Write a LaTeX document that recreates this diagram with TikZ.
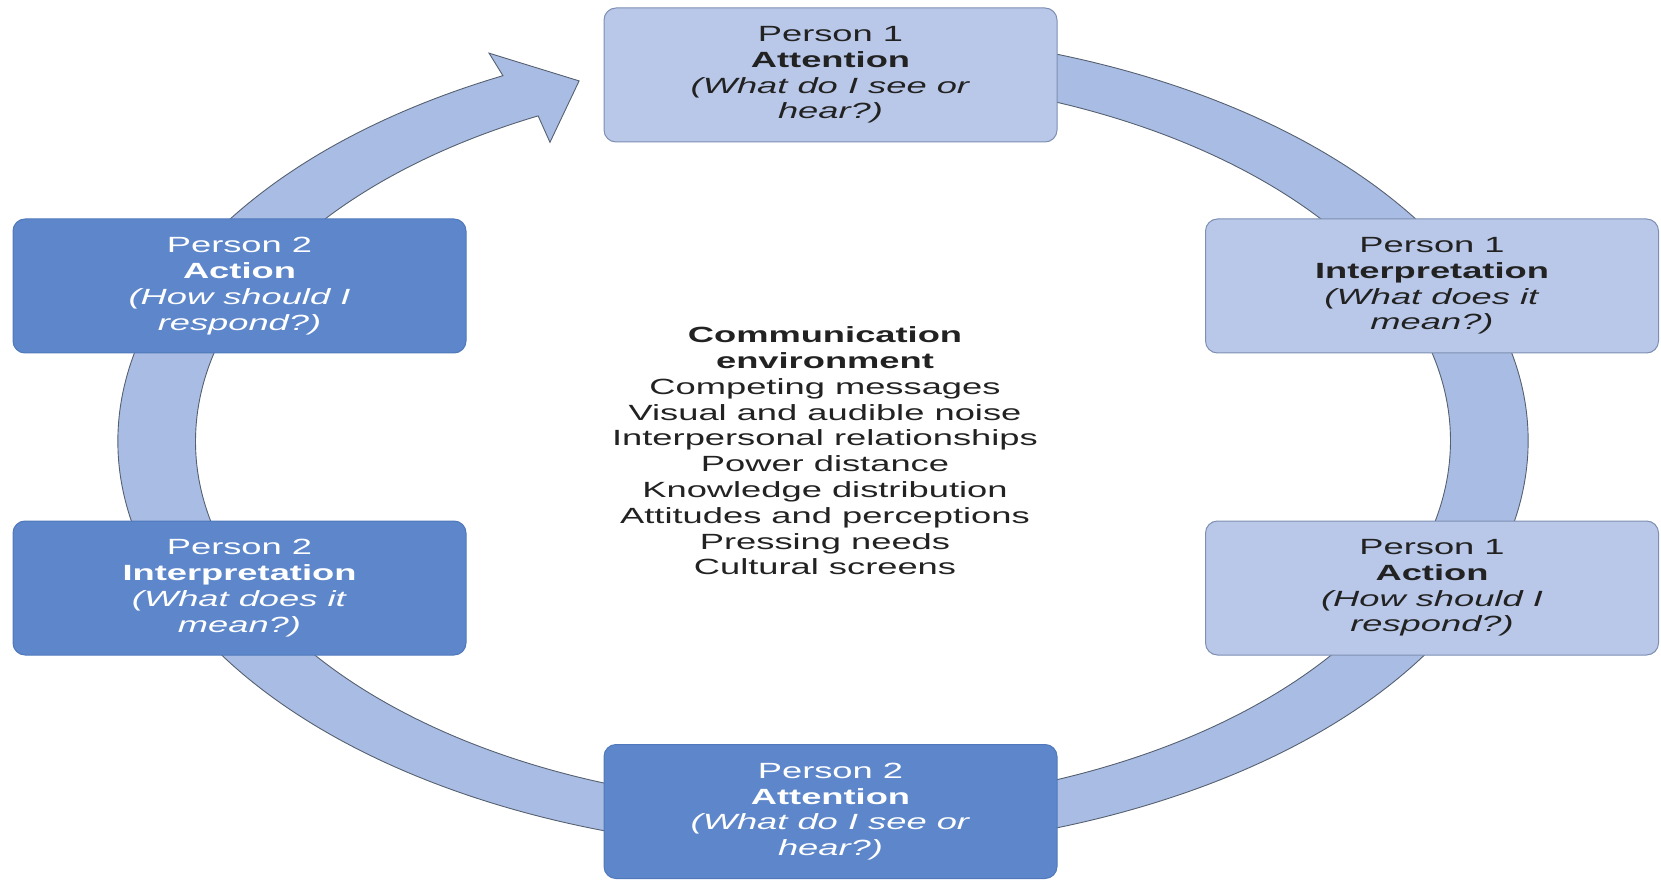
\documentclass[tikz,border=0pt]{standalone}
\usepackage{fontspec}
\setmainfont{Liberation Sans}[FakeStretch=1.65]
\definecolor{ringfill}{HTML}{A9BCE3}
\definecolor{ringline}{HTML}{556070}
\definecolor{lightbox}{HTML}{B9C8E8}
\definecolor{lightedge}{HTML}{7D8FB3}
\definecolor{darkbox}{HTML}{5D87CA}
\definecolor{darkedge}{HTML}{5079BC}
\definecolor{inkgray}{HTML}{222222}
\begin{document}
\begin{tikzpicture}[x=1pt,y=1pt,
  stage/.style={rounded corners=12pt, minimum width=453pt, minimum height=134pt,
    align=center, inner sep=0pt, font=\fontsize{22}{25.8}\selectfont, line width=1pt},
  firstp/.style={stage, fill=lightbox, draw=lightedge, text=inkgray},
  secondp/.style={stage, fill=darkbox, draw=darkedge, text=white},
  ring/.style={fill=ringfill, draw=ringline, line width=0.9pt, line join=miter},
  envtext/.style={align=center, font=\fontsize{22}{25.8}\selectfont, text=inkgray}
]
\useasboundingbox (0,0) rectangle (1661,879);

% cycle arrow: an annulus stretched into an ellipse, with its head at the top left
\begin{scope}[shift={(823,438)}, xscale=705, yscale=410]
  \draw[ring] (117:1) arc[start angle=117, end angle=445, radius=1]
    -- (445:0.89) arc[start angle=445, end angle=117, radius=0.89]
    -- (118:0.825) -- (111.5:0.944) -- (116.6:1.058) -- cycle;
\end{scope}

% the six stages
\node[firstp] (p1att) at (830.5,804)
  {Person 1\\\textbf{Attention}\\\textit{(What do I see or}\\\textit{hear?)}};
\node[firstp] (p1int) at (1432,593)
  {Person 1\\\textbf{Interpretation}\\\textit{(What does it}\\\textit{mean?)}};
\node[firstp] (p1act) at (1432,291)
  {Person 1\\\textbf{Action}\\\textit{(How should I}\\\textit{respond?)}};
\node[secondp] (p2att) at (830.5,67.5)
  {Person 2\\\textbf{Attention}\\\textit{(What do I see or}\\\textit{hear?)}};
\node[secondp] (p2int) at (239.5,291)
  {Person 2\\\textbf{Interpretation}\\\textit{(What does it}\\\textit{mean?)}};
\node[secondp] (p2act) at (239.5,593)
  {Person 2\\\textbf{Action}\\\textit{(How should I}\\\textit{respond?)}};

% environment factors in the middle
\node[envtext] (env) at (825,428)
  {\textbf{Communication}\\\textbf{environment}\\Competing messages\\Visual and audible noise\\
   Interpersonal relationships\\Power distance\\Knowledge distribution\\
   Attitudes and perceptions\\Pressing needs\\Cultural screens};
\end{tikzpicture}
\end{document}
